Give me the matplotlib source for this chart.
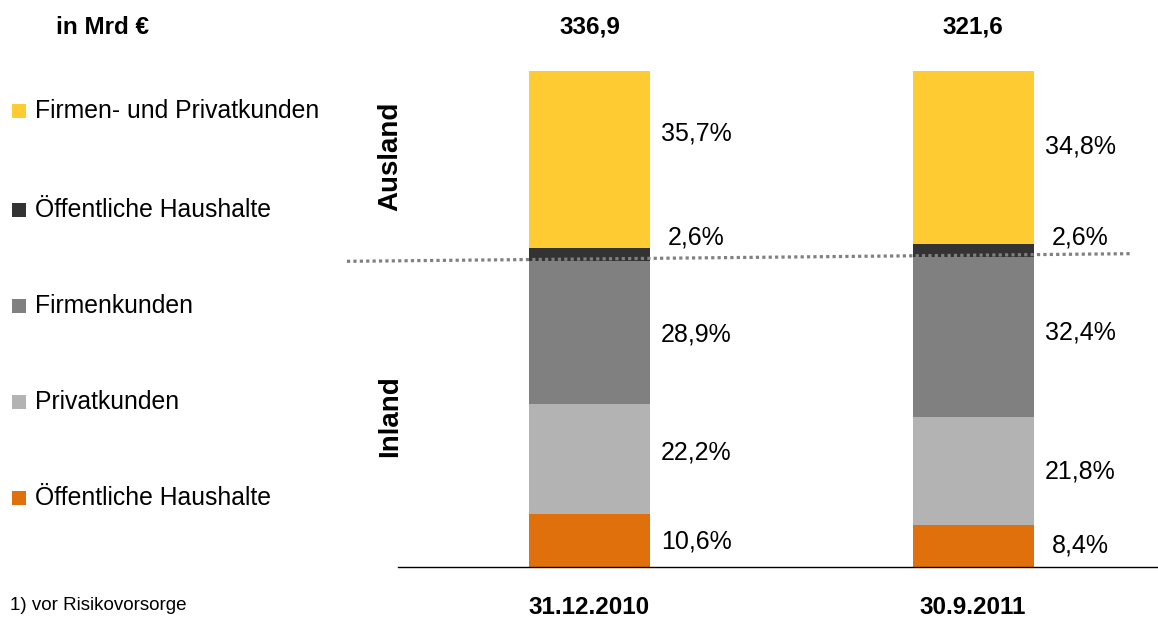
import matplotlib
matplotlib.use("Agg")
import matplotlib.pyplot as plt
from matplotlib.patches import Rectangle
import numpy as np

plt.rcParams['font.family'] = ['Liberation Sans', 'DejaVu Sans']

# ---------------- data ----------------
dates = ["31.12.2010", "30.9.2011"]
totals = ["336,9", "321,6"]
segments = ["Öffentliche Haushalte (Inland)", "Privatkunden", "Firmenkunden",
            "Öffentliche Haushalte (Ausland)", "Firmen- und Privatkunden"]
values_2010 = [10.6, 22.2, 28.9, 2.6, 35.7]
values_2011 = [8.4, 21.8, 32.4, 2.6, 34.8]
colors = ["#E0700C", "#B3B3B3", "#808080", "#333333", "#FFCB33"]
legend_labels = ["Firmen- und Privatkunden", "Öffentliche Haushalte",
                 "Firmenkunden", "Privatkunden", "Öffentliche Haushalte"]
legend_colors = ["#FFCB33", "#333333", "#808080", "#B3B3B3", "#E0700C"]

W, H = 1158, 619
fig = plt.figure(figsize=(W / 100, H / 100), dpi=100)
ax = fig.add_axes([398 / W, (H - 567) / H, 760 / W, 496 / H])

px_per_unit = 383.5
xs = np.array([0.0, 1.0])
bar_w = 121 / px_per_unit
all_vals = [values_2010, values_2011]

for i, vals in enumerate(all_vals):
    bottom = 0
    for v, c in zip(vals, colors):
        ax.bar(xs[i], v, bottom=bottom, width=bar_w, color=c, edgecolor='none', zorder=2)
        bottom += v

# percent labels (layout positions in % units)
label_y = [[5.2, 23.0, 46.8, 66.5, 87.5],
           [4.4, 19.2, 47.2, 66.5, 84.7]]
label_dx = 107 / px_per_unit
for i, vals in enumerate(all_vals):
    for v, y in zip(vals, label_y[i]):
        ax.text(xs[i] + label_dx, y, f"{v:.1f}%".replace('.', ','),
                ha='center', va='center', fontsize=18, color='black')

# dotted separator between Inland / Ausland
inland_top = [sum(v[:3]) for v in all_vals]
x_left = (347 - 589.5) / px_per_unit
x_right = (1130 - 589.5) / px_per_unit
slope = (inland_top[1] - inland_top[0]) / (xs[1] - xs[0])
y_left = inland_top[0] + slope * (x_left - xs[0]) + 0.5
y_right = inland_top[0] + slope * (x_right - xs[0]) + 0.2
ax.plot([x_left, x_right], [y_left, y_right], color='#808080', lw=2.3,
        linestyle=(0, (1, 1)), clip_on=False, zorder=3,
        dash_capstyle='butt')

ax.set_xlim(-(589.5 - 398) / px_per_unit, 1 + (1158 - 973) / px_per_unit)
ax.set_ylim(0, 100)
for s in ['top', 'right', 'left']:
    ax.spines[s].set_visible(False)
ax.spines['bottom'].set_linewidth(1.0)
ax.set_yticks([])
ax.set_xticks(xs)
ax.set_xticklabels(dates, fontsize=17.5, fontweight='bold')
ax.tick_params(axis='x', length=0, pad=21)

# totals above bars
for i, t in enumerate(totals):
    ax.text(xs[i], (567 - 27) / 496 * 100, t, ha='center', va='center',
            fontsize=17.5, fontweight='bold', clip_on=False)

# figure-level text
fig.text(103 / W, 1 - 27 / H, "in Mrd €", ha='center', va='center',
         fontsize=17.5, fontweight='bold')
fig.text(390 / W, 1 - 156 / H, "Ausland", rotation=90, ha='center', va='center',
         fontsize=20, fontweight='bold')
fig.text(390 / W, 1 - 416 / H, "Inland", rotation=90, ha='center', va='center',
         fontsize=20, fontweight='bold')
fig.text(10 / W, 1 - 606 / H, "1) vor Risikovorsorge", ha='left', va='center',
         fontsize=13.5)

# legend
leg_y = [111, 210, 306, 402, 498]
for lab, col, y in zip(legend_labels, legend_colors, leg_y):
    fig.add_artist(Rectangle((12 / W, 1 - (y + 7) / H), 14 / W, 14 / H,
                             transform=fig.transFigure, facecolor=col,
                             edgecolor='none'))
    fig.text(35 / W, 1 - y / H, lab, ha='left', va='center', fontsize=17.8)

fig.savefig("out.png", dpi=100)
